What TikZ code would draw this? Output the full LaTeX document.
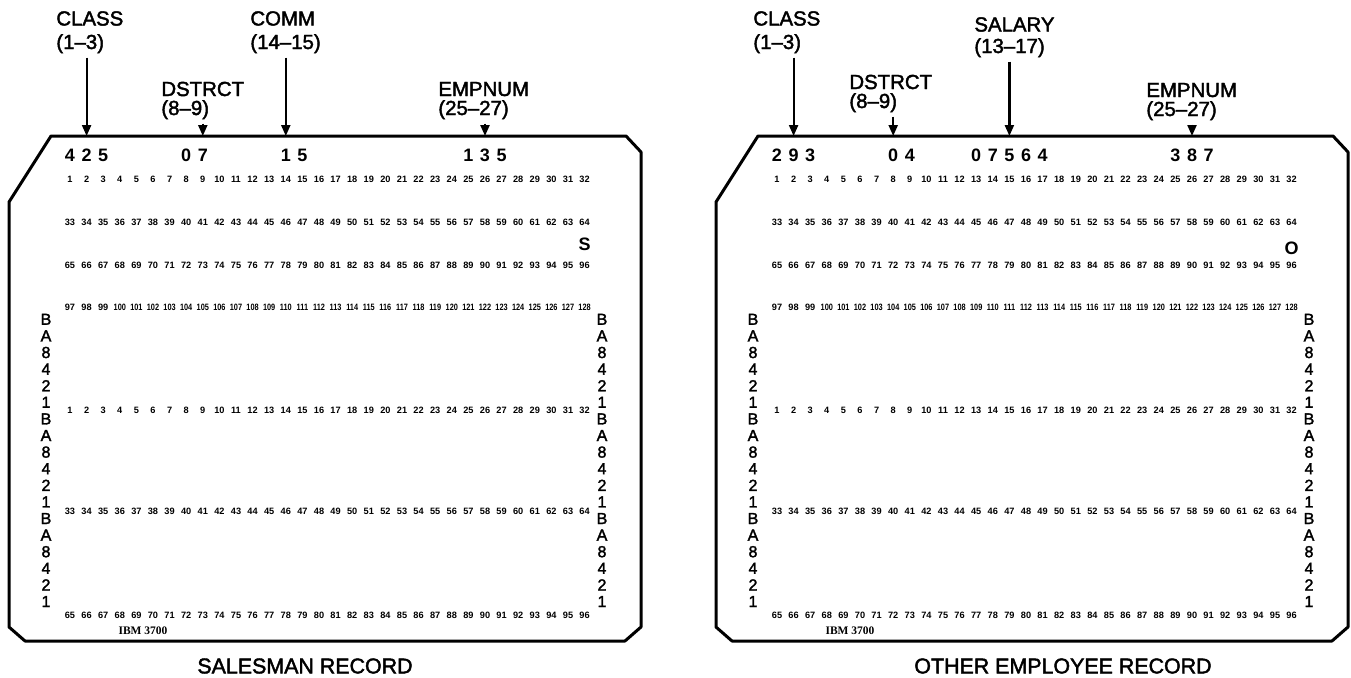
\documentclass[tikz,border=0pt]{standalone}
\usepackage{fontspec}
\setmainfont{Liberation Sans}[Ligatures=TeX]
\newfontfamily\ibmserif{Liberation Serif}[Ligatures=TeX]
\newfontfamily\medsans{Liberation Sans}[FakeBold=2,Ligatures=TeX]
\usetikzlibrary{arrows.meta}
\tikzset{
  cardline/.style={line width=1.5pt, line join=round},
  lbl/.style={font=\medsans\fontsize{10.2}{12}\selectfont, inner sep=0pt, anchor=base west},
  ttl/.style={font=\medsans\fontsize{10.7}{12}\selectfont, inner sep=0pt},
  datum/.style={font=\bfseries\fontsize{9}{10}\selectfont, inner sep=0pt},
  colnum/.style={font=\fontsize{4.6}{5}\selectfont\bfseries, inner sep=0pt},
  side/.style={font=\medsans\fontsize{8}{9}\selectfont, inner sep=0pt},
  ibm/.style={font=\ibmserif\bfseries\fontsize{5.75}{6}\selectfont, inner sep=0pt},
  ptr/.style={line width=1.1pt, shorten <=2pt, -{Triangle[length=5.5pt,width=4.5pt]}},
}
\newcommand\pcard[1]{%
  \draw[cardline] (51,136) -- (626,136) -- (641,152) -- (641,627) -- (625,641) -- (25,641) -- (9,627) -- (9,202) -- cycle;
  \foreach \yy/\s [count=\r] in {179/0,222/32,265/64,307/96,410/0,511/32,615/64}{%
    \foreach \k in {1,...,32}{%
      \pgfmathtruncatemacro\n{\s+\k}%
      \node[colnum] (#1-n\r-\k) at ({70+(\k-1)*16.6},\yy) {\ifnum\n>99 \scalebox{0.8}[1]{\n}\else\n\fi};
    }%
  }%
  \foreach \ch [count=\j] in {B,A,8,4,2,1,B,A,8,4,2,1,B,A,8,4,2,1}{%
    \node[side] (#1-sl\j) at (46,{302.7+16.6*\j}) {\ch};
    \node[side] (#1-sr\j) at (602,{302.7+16.6*\j}) {\ch};
  }%
  \node[ibm] (#1-ibm) at (143,631) {IBM 3700};
}
\begin{document}
\begin{tikzpicture}[x=0.5pt,y=-0.5pt]
\useasboundingbox (0,0) rectangle (1351,677);
% ---------------- left card ----------------
\begin{scope}
  \pcard{L}
  \foreach \c/\d in {1/4,2/2,3/5,8/0,9/7,14/1,15/5,25/1,26/3,27/5}{%
    \node[datum] (L-d\c) at ({70+(\c-1)*16.6},155) {\d};
  }
  \node[datum] (L-s) at ({70+31*16.6},244) {S};
  \coordinate (L-a2) at ({70+1*16.6},136);
  \coordinate (L-a9) at ({70+8*16.6},136);
  \coordinate (L-a14) at ({70+13*16.6},136);
  \coordinate (L-a26) at ({70+25*16.6},136);
  \node[lbl] (L-class1) at (56,25.5) {CLASS};
  \node[lbl] (L-class2) at (56,49) {(1–3)};
  \node[lbl] (L-dst1) at (161,96) {DSTRCT};
  \node[lbl] (L-dst2) at (161,115) {(8–9)};
  \node[lbl] (L-comm1) at (250,25.5) {COMM};
  \node[lbl] (L-comm2) at (250,49) {(14–15)};
  \node[lbl] (L-emp1) at (438,96) {EMPNUM};
  \node[lbl] (L-emp2) at (438,115) {(25–27)};
  \draw[ptr] (L-class2.south -| L-a2) -- (L-a2);
  \draw[ptr] (L-dst2.south -| L-a9) -- (L-a9);
  \draw[ptr] (L-comm2.south -| L-a14) -- (L-a14);
  \draw[ptr] (L-emp2.south -| L-a26) -- (L-a26);
  \node[ttl] (L-title) at (305,666) {SALESMAN RECORD};
\end{scope}
% ---------------- right card ----------------
\begin{scope}[shift={(707,0)}]
  \pcard{R}
  \foreach \c/\d in {1/2,2/9,3/3,8/0,9/4,13/0,14/7,15/5,16/6,17/4,25/3,26/8,27/7}{%
    \node[datum] (R-d\c) at ({70+(\c-1)*16.6},155) {\d};
  }
  \node[datum] (R-o) at ({70+31*16.6},248) {O};
  \coordinate (R-a2) at ({70+1*16.6},136);
  \coordinate (R-a8) at ({70+7*16.6},136);
  \coordinate (R-a15) at ({70+14*16.6},136);
  \coordinate (R-a26) at ({70+25*16.6},136);
  \node[lbl] (R-class1) at (46,25.5) {CLASS};
  \node[lbl] (R-class2) at (46,49) {(1–3)};
  \node[lbl] (R-dst1) at (142,89) {DSTRCT};
  \node[lbl] (R-dst2) at (142,108) {(8–9)};
  \node[lbl] (R-sal1) at (267,31.5) {SALARY};
  \node[lbl] (R-sal2) at (267,53) {(13–17)};
  \node[lbl] (R-emp1) at (439,97) {EMPNUM};
  \node[lbl] (R-emp2) at (439,116) {(25–27)};
  \draw[ptr] (R-class2.south -| R-a2) -- (R-a2);
  \draw[ptr] (R-dst2.south -| R-a8) -- (R-a8);
  \draw[ptr] (R-sal2.south -| R-a15) -- (R-a15);
  \draw[ptr] (R-emp2.south -| R-a26) -- (R-a26);
  \node[ttl] (R-title) at (356,666) {OTHER EMPLOYEE RECORD};
\end{scope}
\end{tikzpicture}
\end{document}
